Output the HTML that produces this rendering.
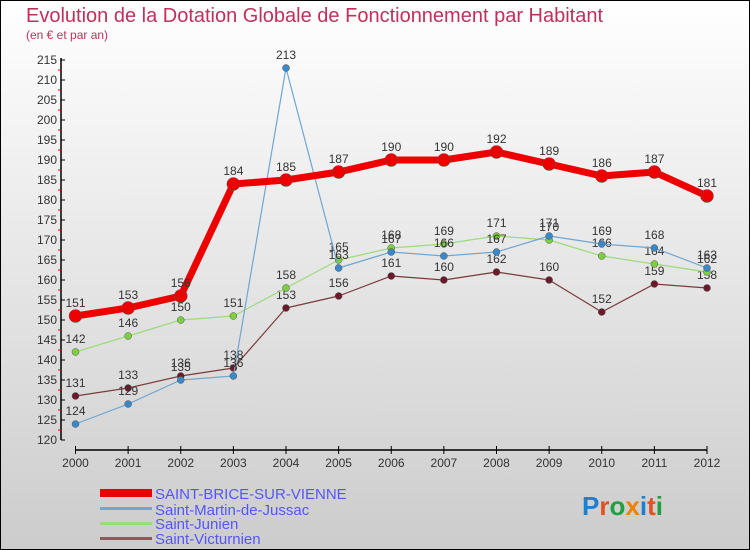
<!DOCTYPE html>
<html><head><meta charset="utf-8"><style>
body{margin:0}
svg{display:block;font-family:"Liberation Sans",sans-serif}
</style></head><body>
<svg id="c" width="750" height="550" xmlns="http://www.w3.org/2000/svg">
<defs><linearGradient id="bg" x1="0" y1="0" x2="0" y2="1"><stop offset="0" stop-color="#ffffff"/><stop offset="1" stop-color="#cccccc"/></linearGradient></defs>
<rect x="0.5" y="0.5" width="749" height="549" fill="url(#bg)" stroke="#000"/>
<text x="26" y="22" font-size="20" fill="#c0305a">Evolution de la Dotation Globale de Fonctionnement par Habitant</text>
<text x="26" y="39" font-size="12" fill="#c0305a">(en € et par an)</text>
<g id="axes"></g><g id="series"></g>
<g>
<rect x="100" y="489" width="52" height="8" fill="#e00"/>
<text x="155" y="499" font-size="15" fill="#55f">SAINT-BRICE-SUR-VIENNE</text>
<rect x="100" y="507" width="52" height="3" fill="#6fa6d2"/>
<text x="155" y="515" font-size="15" fill="#55f">Saint-Martin-de-Jussac</text>
<rect x="100" y="522" width="52" height="3" fill="#9cdb7a"/>
<text x="155" y="529" font-size="15" fill="#55f">Saint-Junien</text>
<rect x="100" y="537" width="52" height="3" fill="#8a5a5a"/>
<text x="155" y="544" font-size="15" fill="#55f">Saint-Victurnien</text>
</g>
<text x="582" y="515" font-size="26" font-weight="bold"><tspan fill="#1e7fd0">P</tspan><tspan fill="#e05020">r</tspan><tspan fill="#20a040">o</tspan><tspan fill="#f08000">x</tspan><tspan fill="#1e7fd0">i</tspan><tspan fill="#e05020">t</tspan><tspan fill="#20a040">i</tspan></text>
</svg>
<script>
const years=["2000","2001","2002","2003","2004","2005","2006","2007","2008","2009","2010","2011","2012"];
const brice=[151,153,156,184,185,187,190,190,192,189,186,187,181];
const martin=[124,129,135,136,213,163,167,166,167,171,169,168,163];
const junien=[142,146,150,151,158,165,168,169,171,170,166,164,162];
const victurnien=[131,133,136,138,153,156,161,160,162,160,152,159,158];
const yTicks=[120,125,130,135,140,145,150,155,160,165,170,175,180,185,190,195,200,205,210,215];
const NS="http://www.w3.org/2000/svg";
const X=i=>75.5+i*(707-75.5)/(years.length-1);
const Y=v=>440-(v-120)*4;
function mk(t,a,p){const e=document.createElementNS(NS,t);for(const k in a)e.setAttribute(k,a[k]);p.appendChild(e);return e;}
const ax=document.getElementById('axes');
mk('line',{x1:61,y1:Y(215)-2,x2:61,y2:440,stroke:'#000','stroke-width':1.5},ax);
mk('line',{x1:75.5,y1:450,x2:707,y2:450,stroke:'#000','stroke-width':1.5},ax);
yTicks.forEach((v,k)=>{
 mk('line',{x1:61,y1:Y(v),x2:65,y2:Y(v),stroke:'#000'},ax);
 if(k<yTicks.length-1) mk('line',{x1:58,y1:Y(v)-10,x2:61,y2:Y(v)-10,stroke:'#e00'},ax);
 const t=mk('text',{x:57,y:Y(v)+4,'font-size':12,fill:'#333','text-anchor':'end'},ax);
 
 
 t.textContent=v;
});
years.forEach((y,i)=>{
 mk('line',{x1:X(i),y1:446,x2:X(i),y2:454,stroke:'#000'},ax);
 const t=mk('text',{x:X(i),y:467,'font-size':12,fill:'#333','text-anchor':'middle'},ax);
 
 
 t.textContent=y;
});
const sg=document.getElementById('series');
function draw(name,data,color,fill,w,r){
 const g=mk('g',{},sg);
 
 
 mk('polyline',{points:data.map((v,i)=>X(i)+','+Y(v)).join(' '),fill:'none',stroke:color,'stroke-width':w,'stroke-linejoin':'round'},g);
 data.forEach((v,i)=>{
  const c=mk('circle',{cx:X(i),cy:Y(v),r:r,fill:fill,stroke:'#555','stroke-width':0.5},g);
  
  
  const t=mk('text',{x:X(i),y:Y(v)-9,'font-size':12,fill:'#333','text-anchor':'middle'},g);
  
  
  t.textContent=v;
 });
}
draw('victurnien',victurnien,'#7a3a3a','#6a1a2a',1.2,3.5);
draw('junien',junien,'#9cdb7a','#7cd040',1.2,3.5);
draw('martin',martin,'#6fa6d2','#3a88c8',1.2,3.5);
draw('brice',brice,'#e00','#e00',7,6.5);
</script>
</body></html>
